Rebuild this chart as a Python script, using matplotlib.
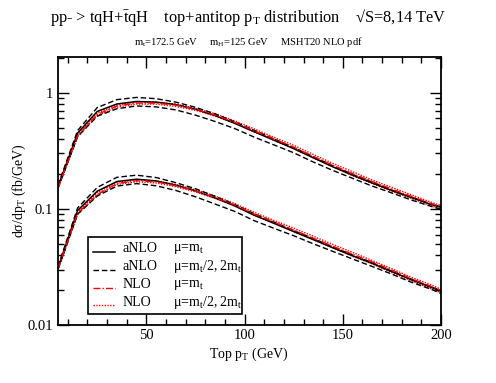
import matplotlib
matplotlib.use("Agg")
import matplotlib.pyplot as plt
from matplotlib.ticker import FixedLocator, NullFormatter, LogLocator
from matplotlib.lines import Line2D
from matplotlib.patches import Rectangle

plt.rcParams['font.family'] = ['Liberation Serif', 'DejaVu Serif']
plt.rcParams['mathtext.fontset'] = 'custom'
plt.rcParams['mathtext.rm'] = 'Liberation Serif'
plt.rcParams['mathtext.it'] = 'Liberation Serif:italic'

pt = [5, 15, 25, 35, 45, 55, 65, 75, 85, 95, 105, 115, 125, 135, 145, 155, 165, 175, 185, 195, 200]

# 14 TeV
anlo14 = [0.155, 0.45, 0.69, 0.80, 0.84, 0.83, 0.79, 0.72, 0.635, 0.545, 0.46, 0.39, 0.33, 0.275, 0.23, 0.195, 0.167, 0.144, 0.125, 0.109, 0.103]
anlo14_hi = [0.160, 0.473, 0.745, 0.872, 0.911, 0.888, 0.830, 0.749, 0.657, 0.561, 0.474, 0.400, 0.337, 0.281, 0.235, 0.198, 0.170, 0.145, 0.126, 0.110, 0.104]
anlo14_lo = [0.150, 0.419, 0.628, 0.728, 0.769, 0.755, 0.711, 0.641, 0.565, 0.491, 0.414, 0.355, 0.304, 0.253, 0.214, 0.183, 0.157, 0.137, 0.119, 0.105, 0.099]
nlo14 = [0.152, 0.428, 0.649, 0.768, 0.815, 0.813, 0.782, 0.720, 0.641, 0.556, 0.469, 0.400, 0.340, 0.283, 0.237, 0.201, 0.172, 0.148, 0.128, 0.111, 0.105]
nlo14_hi = [0.155, 0.437, 0.669, 0.784, 0.832, 0.830, 0.798, 0.734, 0.660, 0.572, 0.488, 0.413, 0.353, 0.294, 0.246, 0.209, 0.177, 0.153, 0.132, 0.114, 0.107]
nlo14_lo = [0.150, 0.419, 0.635, 0.752, 0.798, 0.797, 0.761, 0.706, 0.629, 0.545, 0.46, 0.39, 0.33, 0.275, 0.23, 0.193, 0.165, 0.141, 0.123, 0.106, 0.100]

# 8 TeV
anlo8 = [0.031, 0.097, 0.142, 0.172, 0.180, 0.174, 0.160, 0.143, 0.124, 0.106, 0.088, 0.075, 0.0638, 0.0543, 0.0462, 0.0394, 0.0339, 0.0288, 0.0245, 0.0211, 0.0195]
anlo8_hi = [0.032, 0.102, 0.153, 0.187, 0.195, 0.186, 0.168, 0.149, 0.128, 0.109, 0.0906, 0.0769, 0.0651, 0.0554, 0.0471, 0.040, 0.0344, 0.0291, 0.0247, 0.0213, 0.0197]
anlo8_lo = [0.030, 0.090, 0.129, 0.157, 0.165, 0.158, 0.144, 0.127, 0.110, 0.095, 0.079, 0.068, 0.0587, 0.050, 0.043, 0.037, 0.0319, 0.0274, 0.0233, 0.0203, 0.0187]
nlo8 = [0.0304, 0.092, 0.133, 0.165, 0.175, 0.171, 0.158, 0.143, 0.125, 0.108, 0.090, 0.0769, 0.0657, 0.0559, 0.0476, 0.0406, 0.0349, 0.0297, 0.0250, 0.0215, 0.0199]
nlo8_hi = [0.031, 0.094, 0.138, 0.169, 0.178, 0.174, 0.162, 0.146, 0.129, 0.111, 0.0933, 0.0795, 0.0683, 0.0581, 0.0494, 0.0422, 0.0359, 0.0305, 0.0257, 0.0222, 0.0203]
nlo8_lo = [0.030, 0.090, 0.131, 0.162, 0.171, 0.167, 0.155, 0.140, 0.123, 0.106, 0.088, 0.075, 0.0638, 0.0543, 0.0462, 0.039, 0.0336, 0.0282, 0.024, 0.0205, 0.0189]

legend_labels = ["aNLO", "aNLO", "NLO", "NLO"]
legend_scales = [r"μ=m$_{\rm t}$", r"μ=m$_{\rm t}$/2, 2m$_{\rm t}$",
                 r"μ=m$_{\rm t}$", r"μ=m$_{\rm t}$/2, 2m$_{\rm t}$"]

fig = plt.figure(figsize=(4.96, 3.83), dpi=100)
ax = fig.add_axes([58/496, 1-325/383, (441-58)/496, (325-57)/383])

styles = {
    'anlo': dict(color='black', lw=1.1, ls='-'),
    'anlo_band': dict(color='black', lw=1.0, ls=(0, (4, 2))),
    'nlo': dict(color='red', lw=1.0, ls=(0, (5, 1.5, 1, 1.5))),
    'nlo_band': dict(color='red', lw=1.0, ls=(0, (1, 1))),
}

for c, hi, lo, n, nhi, nlo_ in [(anlo14, anlo14_hi, anlo14_lo, nlo14, nlo14_hi, nlo14_lo),
                                (anlo8, anlo8_hi, anlo8_lo, nlo8, nlo8_hi, nlo8_lo)]:
    ax.plot(pt, nhi, **styles['nlo_band'])
    ax.plot(pt, nlo_, **styles['nlo_band'])
    ax.plot(pt, hi, **styles['anlo_band'])
    ax.plot(pt, lo, **styles['anlo_band'])
    ax.plot(pt, c, **styles['anlo'])
    ax.plot(pt, n, **styles['nlo'])

ax.set_yscale('log')
ax.set_xlim(5, 200)
ax.set_ylim(0.01, 2.03)
ax.set_xticks([50, 100, 150, 200])
ax.set_xticklabels(["50", "100", "150", "200"])
ax.xaxis.set_minor_locator(FixedLocator(list(range(10, 200, 10))))
ax.set_yticks([0.01, 0.1, 1])
ax.set_yticklabels(["0.01", "0.1", "1"])
ax.yaxis.set_minor_locator(LogLocator(base=10, subs=range(2, 10)))
ax.yaxis.set_minor_formatter(NullFormatter())
ax.tick_params(which='both', direction='in', top=True, right=True, labelsize=10.5, width=1.0)
ax.tick_params(which='major', length=8)
ax.tick_params(which='minor', length=4)
ax.tick_params(axis='x', pad=3)
for s in ax.spines.values():
    s.set_linewidth(1.3)

ax.set_xlabel(r"Top p$_{\rm T}$ (GeV)", fontsize=10)
ax.xaxis.set_label_coords((249-58)/383, -(346-325)/268)
ax.set_ylabel(r"dσ/dp$_{\rm T}$ (fb/GeV)", fontsize=10)
ax.yaxis.set_label_coords(-(58-28)/383, 0.5)

fig.text(0.5, 1-18/383,
         r"pp- > tqH+$\bar{\rm t}$qH    top+antitop p$_{\rm T}$ distribution    √S=8,14 TeV",
         ha='center', va='center', fontsize=11.8)
fig.text(0.5, 1-42/383,
         r"m$_{\rm t}$=172.5 GeV     m$_{\rm H}$=125 GeV     MSHT20 NLO pdf",
         ha='center', va='center', fontsize=7.6)

# legend box (drawn manually in axes coordinates)
ax.add_patch(Rectangle((0.078, 0.041), 0.402, 0.288, transform=ax.transAxes,
                       facecolor='white', edgecolor='black', lw=1.2, zorder=5))
rows_y = [0.285, 0.218, 0.150, 0.085]
keys = ['anlo', 'anlo_band', 'nlo', 'nlo_band']
for yy, k, lab, sc in zip(rows_y, keys, legend_labels, legend_scales):
    ax.add_line(Line2D([0.091, 0.149], [yy - 0.012, yy - 0.012], transform=ax.transAxes, zorder=6, **styles[k]))
    ax.text(0.169, yy, lab, transform=ax.transAxes, fontsize=10, va='center', zorder=6)
    ax.text(0.299, yy, sc, transform=ax.transAxes, fontsize=10, va='center', zorder=6)

fig.savefig("out.png", dpi=100)
